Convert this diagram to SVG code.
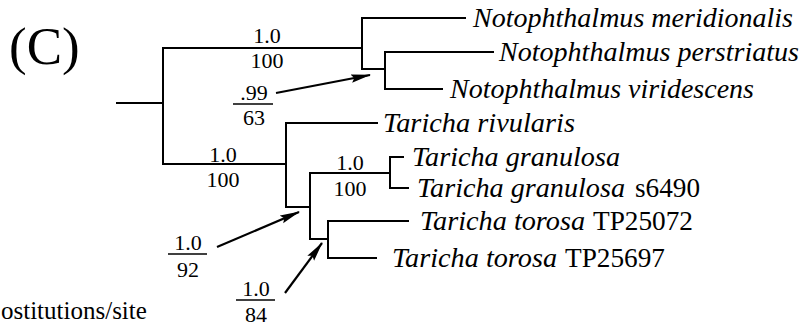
<svg xmlns="http://www.w3.org/2000/svg" width="805" height="326" viewBox="0 0 805 326">
<defs>
<style>
text{font-family:"Liberation Serif","Times New Roman",serif;fill:#000}
.br{fill:none;stroke:#000;stroke-width:2;stroke-linecap:square}
.ar{fill:none;stroke:#000;stroke-width:2.2;marker-end:url(#ah)}
.sp{font-style:italic;font-size:27px}
.up{font-size:27px}
.lb{font-size:22px;text-anchor:middle}
.fr{stroke:#000;stroke-width:1.6}
</style>
<marker id="ah" markerUnits="userSpaceOnUse" markerWidth="20" markerHeight="10" refX="19" refY="5" orient="auto">
<path d="M0,0.8 L20,5 L0,9.2 L3,5 z" fill="#000"/>
</marker>
</defs>
<rect width="805" height="326" fill="#fff"/>
<text x="9" y="64" style="font-size:53px">(C)</text>
<text x="1" y="319" style="font-size:25px">ostitutions/site</text>

<g id="connectors">
<path class="br" d="M117,103 H163 M163,48 V164 M163,48 H362 M362,18 V69 M362,18 H465 M362,69 H385 M385,52 V89 M385,52 H493 M385,89 H442"/>
<path class="br" d="M163,164 H286 M286,123 V207 M286,123 H377 M286,207 H310 M310,173 V239 M310,173 H390 M390,157 V188 M390,157 H403 M390,188 H408 M310,239 H328 M328,221 V258 M328,221 H408 M328,258 H376"/>
<line class="ar" x1="276" y1="93" x2="370" y2="75"/>
<line class="ar" x1="217" y1="247" x2="299" y2="212"/>
<line class="ar" x1="285" y1="293" x2="322" y2="243"/>
</g>

<g id="leaf-meridionalis"><text class="sp" x="473" y="27" textLength="320" lengthAdjust="spacingAndGlyphs">Notophthalmus meridionalis</text></g>
<g id="leaf-perstriatus"><text class="sp" x="499" y="61" textLength="300" lengthAdjust="spacingAndGlyphs">Notophthalmus perstriatus</text></g>
<g id="leaf-viridescens"><text class="sp" x="450" y="97.5" textLength="304" lengthAdjust="spacingAndGlyphs">Notophthalmus viridescens</text></g>
<g id="leaf-rivularis"><text class="sp" x="383" y="131.5" textLength="192" lengthAdjust="spacingAndGlyphs">Taricha rivularis</text></g>
<g id="leaf-granulosa"><text class="sp" x="412" y="166" textLength="208" lengthAdjust="spacingAndGlyphs">Taricha granulosa</text></g>
<g id="leaf-granulosa-s6490"><text class="sp" x="417" y="197" textLength="208" lengthAdjust="spacingAndGlyphs">Taricha granulosa</text><text class="up" x="635" y="197" textLength="65" lengthAdjust="spacingAndGlyphs">s6490</text></g>
<g id="leaf-torosa-TP25072"><text class="sp" x="420" y="230" textLength="165" lengthAdjust="spacingAndGlyphs">Taricha torosa</text><text class="up" x="593" y="230" textLength="100" lengthAdjust="spacingAndGlyphs">TP25072</text></g>
<g id="leaf-torosa-TP25697"><text class="sp" x="392" y="267" textLength="165" lengthAdjust="spacingAndGlyphs">Taricha torosa</text><text class="up" x="565" y="267" textLength="100" lengthAdjust="spacingAndGlyphs">TP25697</text></g>

<g id="node-notophthalmus"><text class="lb" x="267" y="43">1.0</text><text class="lb" x="267" y="68">100</text></g>
<g id="node-perstriatus-viridescens"><text class="lb" x="254" y="100">.99</text><line class="fr" x1="233" y1="104" x2="273" y2="104"/><text class="lb" x="254" y="125">63</text></g>
<g id="node-taricha"><text class="lb" x="223" y="162">1.0</text><text class="lb" x="223" y="187">100</text></g>
<g id="node-granulosa"><text class="lb" x="350" y="170">1.0</text><text class="lb" x="350" y="196">100</text></g>
<g id="node-granulosa-torosa"><text class="lb" x="188" y="250">1.0</text><line class="fr" x1="168" y1="254" x2="207" y2="254"/><text class="lb" x="188" y="277">92</text></g>
<g id="node-torosa"><text class="lb" x="256" y="296">1.0</text><line class="fr" x1="236" y1="300" x2="275" y2="300"/><text class="lb" x="256" y="322">84</text></g>
</svg>
